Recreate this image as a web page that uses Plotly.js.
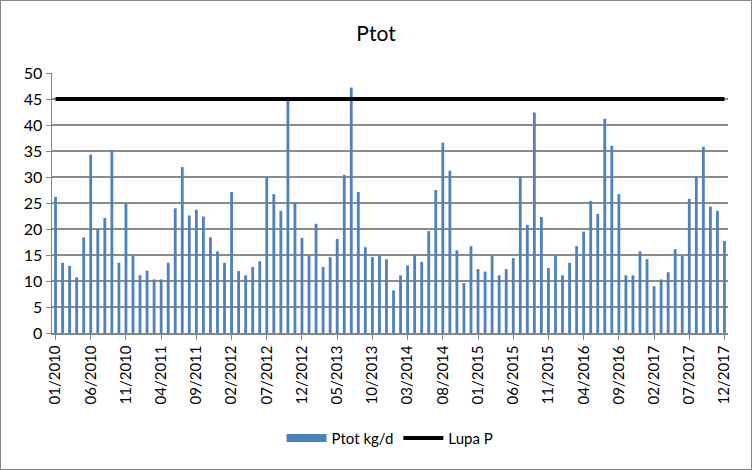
<!DOCTYPE html>
<html>
<head>
<meta charset="utf-8">
<script src="https://cdn.plot.ly/plotly-3.0.1.min.js"></script>
<style>
html,body{margin:0;padding:0;background:#fff;}
#chart{width:750px;height:468px;border:1px solid #868686;}
</style>
</head>
<body>
<div id="chart"></div>
<script>
const years = [2010, 2011, 2012, 2013, 2014, 2015, 2016, 2017];
const months = ["01","02","03","04","05","06","07","08","09","10","11","12"];
const ptot = [
  26.2, 13.5, 12.9, 10.7, 18.4, 34.3, 20.0, 22.1, 35.2, 13.5, 24.9, 14.8,
  11.1, 12.0, 10.3, 10.3, 13.5, 24.0, 31.9, 22.6, 23.7, 22.4, 18.4, 15.7,
  13.5, 27.1, 11.9, 11.1, 12.7, 13.8, 30.1, 26.7, 23.5, 44.7, 25.1, 18.3,
  14.8, 21.0, 12.7, 14.6, 18.1, 30.4, 47.2, 27.1, 16.5, 14.6, 14.8, 14.2,
  8.2, 11.1, 13.0, 15.0, 13.7, 19.6, 27.5, 36.6, 31.2, 15.9, 9.6, 16.7,
  12.3, 11.8, 14.8, 11.1, 12.3, 14.4, 30.1, 20.8, 42.4, 22.3, 12.5, 14.8,
  11.1, 13.5, 16.7, 19.5, 25.4, 22.9, 41.2, 36.0, 26.7, 11.1, 11.1, 15.7,
  14.2, 9.0, 10.3, 11.7, 16.1, 14.8, 25.8, 30.1, 35.8, 24.3, 23.5, 17.7
];
const lupaP = 45;
const tickLabels = ["01/2010","06/2010","11/2010","04/2011","09/2011","02/2012","07/2012","12/2012","05/2013","10/2013","03/2014","08/2014","01/2015","06/2015","11/2015","04/2016","09/2016","02/2017","07/2017","12/2017"];

const categories = [];
years.forEach(y => months.forEach(m => categories.push(m + "/" + y)));
const lupaSeries = categories.map(() => lupaP);

const font = "Lato, 'Liberation Sans', sans-serif";
const traces = [
  {type:"bar", x:categories, y:ptot, name:"Ptot kg/d", marker:{color:"#4F81BD"}, showlegend:false},
  {type:"scatter", mode:"lines", x:[null], y:[null], name:"Ptot kg/d", line:{color:"#4F81BD", width:8}, legendrank:1},
  {type:"scatter", mode:"lines", x:categories, y:lupaSeries, name:"Lupa P", line:{color:"#000000", width:4}, legendrank:2}
];
const layout = {
  width:750, height:468,
  margin:{l:51, r:23, t:72, b:136},
  paper_bgcolor:"#fff", plot_bgcolor:"#fff",
  font:{family:font, size:15, color:"#000"},
  title:{text:"Ptot", font:{family:font, size:21, color:"#000"}, x:0.5, xanchor:"center", y:0.93, yanchor:"middle"},
  bargap:0.6,
  showlegend:true,
  legend:{orientation:"h", x:0.5, xanchor:"center", y:-0.405, yanchor:"middle", font:{family:font, size:15}, itemwidth:40},
  xaxis:{type:"category", range:[-0.5, 95.5], tickmode:"array", tickvals:tickLabels, ticktext:tickLabels,
         tickangle:-90, ticks:"outside", ticklen:5, tickcolor:"#868686", showline:true, linecolor:"#868686", linewidth:1.5,
         showgrid:false, tickfont:{family:font, size:15}, fixedrange:true},
  yaxis:{range:[0,50], dtick:5, tick0:0, ticks:"outside", ticklen:5, tickcolor:"#868686", showline:true, linecolor:"#868686", linewidth:1.5,
         showgrid:true, gridcolor:"#8c8c8c", gridwidth:1.5, zeroline:false, tickfont:{family:font, size:16}, fixedrange:true}
};
Plotly.newPlot("chart", traces, layout, {displayModeBar:false, staticPlot:true});
</script>
</body>
</html>
